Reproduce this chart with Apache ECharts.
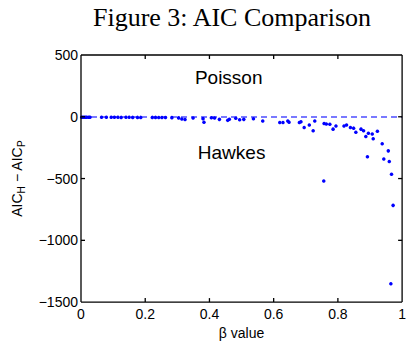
<!DOCTYPE html>
<html>
<head>
<meta charset="utf-8">
<script src="https://cdn.jsdelivr.net/npm/echarts@6/dist/echarts.min.js"></script>
<style>
  html, body { margin: 0; padding: 0; background: #fff; overflow: hidden; }
  #chart { width: 409px; height: 345px; }
</style>
</head>
<body>
<div id="chart"></div>
<script>
// beta values and AIC_H - AIC_P
const betaValues = [
  0.002, 0.006, 0.010, 0.014, 0.018, 0.024, 0.028, 0.064, 0.079, 0.094,
  0.104, 0.115, 0.125, 0.140, 0.150, 0.161, 0.176, 0.186, 0.222, 0.232,
  0.242, 0.252, 0.263, 0.283, 0.304, 0.314, 0.324, 0.349, 0.380, 0.383,
  0.406, 0.416, 0.431, 0.457, 0.462, 0.482, 0.494, 0.507, 0.537, 0.566,
  0.619, 0.629, 0.644, 0.648, 0.680, 0.685, 0.695, 0.711, 0.723, 0.728,
  0.757, 0.764, 0.775, 0.785, 0.794, 0.819, 0.827, 0.839, 0.849, 0.856,
  0.872, 0.880, 0.887, 0.895, 0.907, 0.910, 0.923, 0.938, 0.756, 0.892,
  0.943, 0.957, 0.960, 0.967, 0.972, 0.965
];
const aicDiff = [
  -3, -3, -3, -3, -3, -3, -4, -4, -4, -4,
  -4, -4, -5, -4, -4, -5, -5, -5, -5, -5,
  -6, -6, -6, -7, -9, -18, -22, -10, -15, -45,
  -8, -10, -21, -29, -20, -12, -24, -21, -16, -34,
  -47, -47, -34, -45, -47, -40, -87, -66, -113, -34,
  -55, -58, -60, -100, -74, -74, -66, -87, -92, -126,
  -100, -113, -160, -134, -139, -178, -118, -218, -520, -323,
  -341, -276, -362, -465, -717, -1352
];
const yTicks = [-1500, 500, 500]; // min, max, step
const xTicks = [0, 1, 0.2];
const regionLabels = [
  { text: "Poisson", beta: 0.46, aic: 315 },
  { text: "Hawkes", beta: 0.469, aic: -291 }
];

const font = "Liberation Sans, Arial, Helvetica, sans-serif";
const minus = (v) => String(v).replace("-", "\u2212");

const chart = echarts.init(document.getElementById("chart"), null, { renderer: "svg", width: 409, height: 345 });

const baseX = {
  type: "value",
  min: xTicks[0],
  max: xTicks[1],
  interval: xTicks[2],
  splitLine: { show: false },
  axisLine: { show: false, onZero: false },
  axisTick: { show: false },
};
const baseY = {
  type: "value",
  min: yTicks[0],
  max: yTicks[1],
  interval: yTicks[2],
  splitLine: { show: false },
  axisLine: { show: false, onZero: false },
  axisTick: { show: false },
};

chart.setOption({
  animation: false,
  backgroundColor: "#fff",
  title: {
    text: "Figure 3: AIC Comparison",
    left: 227,
    top: -1,
    textAlign: "center",
    textStyle: { fontFamily: "Liberation Serif, Times New Roman, serif", fontWeight: "normal", fontSize: 26, color: "#000" },
  },
  grid: { left: 81, right: 2, top: 55, bottom: 36, containLabel: false },
  xAxis: {
    ...baseX,
    axisLabel: { color: "#000", fontFamily: font, fontSize: 14, margin: 5 },
    name: "\u03b2 value",
    nameLocation: "middle",
    nameGap: 21,
    nameTextStyle: { color: "#000", fontFamily: font, fontSize: 14 },
  },
  yAxis: {
    ...baseY,
    axisLabel: { color: "#000", fontFamily: font, fontSize: 14, margin: 3, formatter: minus },
    name: "AIC{s|H} \u2212 AIC{s|P}",
    nameLocation: "middle",
    nameRotate: 90,
    nameGap: 55,
    nameTextStyle: {
      color: "#000",
      fontFamily: font,
      fontSize: 14,
      rich: { s: { fontFamily: font, fontSize: 10, color: "#000", padding: [8, 0, 0, 0] } },
    },
  },
  series: [
    {
      type: "scatter",
      data: betaValues.map((b, i) => [b, aicDiff[i]]),
      symbol: "circle",
      symbolSize: 3.5,
      itemStyle: { color: "#0000ff", opacity: 1 },
      markLine: {
        silent: true,
        symbol: "none",
        label: { show: false },
        emphasis: { disabled: true },
        lineStyle: { color: "#0000ff", width: 1.5, type: [6, 4], opacity: 0.7 },
        data: [{ yAxis: 0 }],
      },
      z: 3,
    },
  ],
});

// box and inward ticks on all four sides, placed through the axes
const toPx = (x, y) => chart.convertToPixel({ xAxisIndex: 0, yAxisIndex: 0 }, [x, y]);
const [x0, y0] = toPx(xTicks[0], yTicks[0]);
const [x1, y1] = toPx(xTicks[1], yTicks[1]);
const tickLen = 4;
const ink = { stroke: "#000", lineWidth: 1.3 };
const frame = [
  { type: "line", shape: { x1: x0, y1: y0, x2: x1, y2: y0 }, style: ink, z: 100 },
  { type: "line", shape: { x1: x0, y1: y1, x2: x1, y2: y1 }, style: ink, z: 100 },
  { type: "line", shape: { x1: x0, y1: y0, x2: x0, y2: y1 }, style: ink, z: 100 },
  { type: "line", shape: { x1: x1, y1: y0, x2: x1, y2: y1 }, style: ink, z: 100 },
];
for (let v = xTicks[0] + xTicks[2]; v < xTicks[1] - 1e-9; v += xTicks[2]) {
  const px = toPx(v, 0)[0];
  frame.push({ type: "line", shape: { x1: px, y1: y0, x2: px, y2: y0 - tickLen }, style: ink, z: 100 });
  frame.push({ type: "line", shape: { x1: px, y1: y1, x2: px, y2: y1 + tickLen }, style: ink, z: 100 });
}
for (let v = yTicks[0] + yTicks[2]; v < yTicks[1]; v += yTicks[2]) {
  const py = toPx(0, v)[1];
  frame.push({ type: "line", shape: { x1: x0, y1: py, x2: x0 + tickLen, y2: py }, style: ink, z: 100 });
  frame.push({ type: "line", shape: { x1: x1, y1: py, x2: x1 - tickLen, y2: py }, style: ink, z: 100 });
}
const labels = regionLabels.map((r) => {
  const [px, py] = toPx(r.beta, r.aic);
  return {
    type: "text",
    x: px,
    y: py,
    style: { text: r.text, fill: "#000", font: "19px " + font, align: "center", verticalAlign: "middle" },
  };
});
chart.setOption({ graphic: frame.concat(labels) });
</script>
</body>
</html>
